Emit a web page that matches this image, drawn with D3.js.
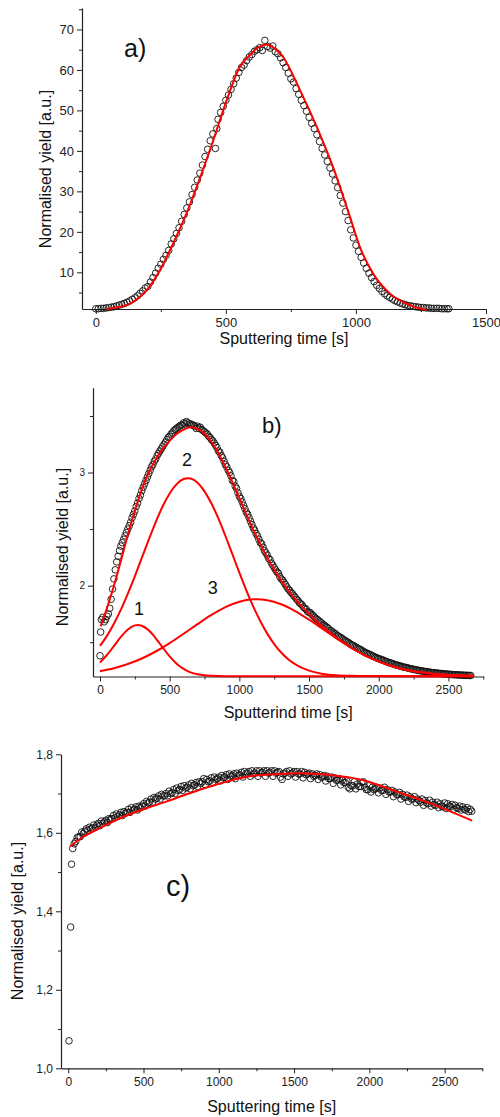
<!DOCTYPE html>
<html><head><meta charset="utf-8">
<script src="https://cdn.jsdelivr.net/npm/d3@7/dist/d3.min.js"></script>
<style>
body{margin:0;background:#fff;}
svg{display:block;font-family:"Liberation Sans",Arial,sans-serif;}
</style></head>
<body><svg id="chart" width="500" height="1117"></svg>
<script>
// ---------- Panel a ----------
const aData = [[0,1.0],[10,1.0],[20,1.1],[30,1.1],[40,1.2],[50,1.3],[60,1.4],[70,1.5],[80,1.7],[90,1.9],[100,2.1],[110,2.3],[120,2.6],[130,2.9],[140,3.3],[150,3.7],[160,4.2],[170,4.8],[180,5.4],[190,6.1],[200,6.5],[210,7.6],[220,8.7],[230,9.8],[240,11.0],[250,12.0],[260,13.2],[270,14.2],[280,15.4],[290,17.0],[300,18.3],[310,19.6],[320,21.0],[330,22.6],[340,24.3],[350,25.9],[360,27.4],[370,29.2],[380,31.0],[390,32.8],[400,34.5],[410,36.5],[420,38.6],[430,40.4],[440,42.5],[450,44.2],[460,40.6],[465,45.5],[470,47.8],[480,49.5],[490,51.0],[500,52.5],[510,53.8],[520,55.2],[530,56.6],[540,58.0],[550,59.4],[560,60.6],[570,61.2],[580,62.3],[590,63.2],[600,63.8],[610,64.6],[620,65.0],[630,65.5],[640,64.8],[650,67.3],[660,65.8],[670,65.4],[680,65.9],[690,64.5],[700,64.0],[710,63.0],[720,61.8],[730,60.6],[740,59.2],[750,57.8],[760,57.0],[770,55.4],[780,54.0],[790,52.5],[800,51.2],[810,49.8],[820,48.3],[830,46.8],[840,45.5],[850,44.0],[860,42.3],[870,40.6],[880,39.0],[890,37.4],[900,35.8],[910,34.3],[920,32.6],[930,30.9],[940,29.0],[950,27.1],[960,25.0],[970,22.8],[980,20.5],[990,18.5],[1000,16.7],[1010,15.2],[1020,13.7],[1030,12.3],[1040,11.0],[1050,9.8],[1060,8.7],[1070,7.7],[1080,6.8],[1090,6.0],[1100,5.3],[1110,4.7],[1120,4.2],[1130,3.8],[1140,3.4],[1150,3.0],[1160,2.7],[1170,2.4],[1180,2.2],[1190,2.0],[1200,1.8],[1210,1.7],[1220,1.6],[1230,1.5],[1240,1.4],[1250,1.3],[1260,1.3],[1270,1.2],[1280,1.2],[1290,1.1],[1300,1.1],[1310,1.1],[1320,1.1],[1330,1.0],[1340,1.0],[1350,1.0],[1357,1.0]];
const aFit = [[42,0.9],[80,1.3],[119,1.9],[160,3.4],[196,5.6],[247,10.6],[298,17.2],[349,24.6],[400,33.2],[452,42.7],[503,52.5],[554,60.8],[593,63.7],[625,65.6],[657,66.3],[690,65.2],[720,63.2],[785,55.0],[849,46.0],[912,36.0],[977,23.7],[1015,16.3],[1066,9.7],[1130,4.8],[1207,1.9],[1271,0.7]];
const aXTicks = [0,500,1000,1500], aXMinor = [250,750,1250];
const aYTicks = [10,20,30,40,50,60,70], aYMinor = [5,15,25,35,45,55,65,75];

// ---------- Panel b ----------
const bData = [[0,1.38],[5,1.59],[10,1.70],[20,1.72],[30,1.68],[40,1.70],[50,1.73],[60,1.75],[70,1.80],[80,1.88],[90,1.97],[100,2.06],[110,2.14],[120,2.21],[130,2.26],[140,2.31],[150,2.35],[160,2.38],[170,2.41],[180,2.44],[190,2.47],[200,2.50],[210,2.53],[220,2.56],[230,2.60],[240,2.63],[250,2.66],[260,2.70],[270,2.73],[280,2.77],[290,2.80],[300,2.84],[310,2.87],[320,2.90],[330,2.93],[340,2.96],[350,2.99],[360,3.02],[370,3.05],[380,3.07],[390,3.10],[400,3.12],[410,3.15],[420,3.17],[430,3.19],[440,3.21],[450,3.23],[460,3.25],[470,3.27],[480,3.29],[490,3.31],[500,3.32],[510,3.34],[520,3.35],[530,3.37],[540,3.38],[550,3.39],[560,3.40],[570,3.41],[580,3.42],[590,3.42],[600,3.44],[610,3.43],[620,3.45],[630,3.44],[640,3.43],[650,3.43],[660,3.42],[670,3.42],[680,3.41],[690,3.39],
[700,3.41],[710,3.39],[720,3.40],[730,3.38],[740,3.37],[750,3.36],[760,3.35],[770,3.34],[780,3.32],[790,3.31],[800,3.29],[810,3.28],[820,3.26],[830,3.24],[840,3.22],[850,3.19],[860,3.18],[870,3.15],[880,3.13],[890,3.10],[900,3.07],[910,3.05],[920,3.02],[930,3.00],[940,2.97],[950,2.93],[960,2.92],[970,2.88],[980,2.86],[990,2.82],[1000,2.79],[1010,2.77],[1020,2.74],[1030,2.71],[1040,2.68],[1050,2.65],[1060,2.63],[1070,2.60],[1080,2.57],[1090,2.54],[1100,2.51],[1110,2.49],[1120,2.46],[1130,2.44],[1140,2.41],[1150,2.38],[1160,2.37],[1170,2.34],[1180,2.31],[1190,2.29],[1200,2.27],[1210,2.24],[1220,2.23],[1230,2.20],[1240,2.18],[1250,2.16],[1260,2.14],[1270,2.12],[1280,2.11],[1290,2.08],[1300,2.06],[1310,2.05],[1320,2.03],[1330,2.01],[1340,1.99],[1350,1.97],[1360,1.96],[1370,1.94],[1380,1.93],[1390,1.91],[1400,1.90],[1410,1.88],[1420,1.87],[1430,1.85],[1440,1.84],[1450,1.83],[1460,1.81],[1470,1.80],[1480,1.79],[1490,1.77],[1500,1.765],[1510,1.76],[1520,1.745],[1530,1.735],[1540,1.72],[1550,1.71],[1560,1.70],[1570,1.69],[1580,1.68],[1590,1.67],[1600,1.655],[1610,1.65],[1620,1.64],[1630,1.63],[1640,1.62],[1650,1.605],[1660,1.60],[1670,1.59],[1680,1.58],[1690,1.575],[1700,1.56],[1710,1.555],[1720,1.545],[1730,1.54],[1740,1.53],[1750,1.52],[1760,1.515],[1770,1.505],[1780,1.50],[1790,1.49],[1800,1.48],[1810,1.475],[1820,1.47],[1830,1.46],[1840,1.455],[1850,1.445],[1860,1.44],[1870,1.435],[1880,1.425],[1890,1.42],[1900,1.41],[1910,1.405],[1920,1.40],[1930,1.395],[1940,1.39],[1950,1.38],[1960,1.378],[1970,1.37],[1980,1.365],[1990,1.36],[2000,1.355],[2010,1.35],[2020,1.347],[2030,1.34],[2040,1.338],[2050,1.33],[2060,1.328],[2070,1.32],[2080,1.318],[2090,1.315],[2100,1.31],[2110,1.306],[2120,1.30],[2130,1.298],[2140,1.295],[2150,1.29],[2160,1.288],[2170,1.283],[2180,1.28],[2190,1.278],[2200,1.275],[2210,1.272],[2220,1.268],[2230,1.266],[2240,1.263],[2250,1.26],[2260,1.258],[2270,1.255],[2280,1.253],[2290,1.25],[2300,1.248],[2310,1.246],[2320,1.244],[2330,1.242],[2340,1.24],[2350,1.238],[2360,1.236],[2370,1.234],[2380,1.232],[2390,1.231],[2400,1.23],[2410,1.228],[2420,1.227],[2430,1.225],[2440,1.224],[2450,1.223],[2460,1.222],[2470,1.22],[2480,1.219],[2490,1.218],[2500,1.217],[2510,1.216],[2520,1.215],[2530,1.214],[2540,1.213],[2550,1.212],[2560,1.212],[2570,1.211],[2580,1.21],[2590,1.21],[2600,1.209],[2610,1.208],[2620,1.208],[2630,1.207],[2640,1.207],[2650,1.206],[2660,1.206]];
const bSum = [[5,1.64],[50,1.80],[100,2.00],[150,2.22],[200,2.45],[250,2.66],[300,2.85],[350,3.00],[400,3.115],[450,3.21],[500,3.28],[550,3.34],[600,3.38],[650,3.40],[700,3.386],[750,3.343],[800,3.27],[850,3.171],[900,3.049],[950,2.915],[1000,2.773],[1050,2.631],[1100,2.494],[1150,2.367],[1200,2.248],[1250,2.141],[1300,2.045],[1350,1.959],[1400,1.882],[1450,1.813],[1500,1.749],[1550,1.69],[1600,1.636],[1650,1.586],[1700,1.539],[1750,1.496],[1800,1.455],[1850,1.418],[1900,1.384],[1950,1.355],[2000,1.329],[2050,1.306],[2100,1.286],[2150,1.269],[2200,1.255],[2250,1.243],[2300,1.234],[2400,1.22],[2500,1.211],[2600,1.206],[2680,1.203]];
const bPeak1 = [[0,1.320],[50,1.387],[100,1.466],[150,1.547],[200,1.613],[250,1.649],[271,1.653],[300,1.646],[350,1.605],[400,1.535],[450,1.453],[500,1.375],[550,1.310],[600,1.264],[650,1.233],[700,1.216],[750,1.207],[800,1.203],[900,1.200],[1500,1.200],[2000,1.200],[2680,1.200]];
const bPeak2 = [[0,1.467],[50,1.556],[100,1.663],[150,1.788],[200,1.930],[250,2.083],[300,2.245],[350,2.407],[400,2.562],[450,2.702],[500,2.815],[550,2.898],[600,2.943],[630,2.950],[650,2.947],[700,2.910],[750,2.834],[800,2.726],[850,2.592],[900,2.439],[950,2.278],[1000,2.115],[1050,1.959],[1100,1.815],[1150,1.687],[1200,1.576],[1250,1.484],[1300,1.409],[1350,1.350],[1400,1.306],[1450,1.273],[1500,1.249],[1600,1.220],[1700,1.208],[1800,1.203],[1900,1.201],[2300,1.200],[2680,1.200]];
const bPeak3 = [[0,1.244],[100,1.270],[200,1.307],[300,1.356],[400,1.418],[500,1.492],[600,1.575],[700,1.660],[800,1.741],[900,1.810],[1000,1.858],[1100,1.879],[1124,1.880],[1200,1.872],[1300,1.836],[1400,1.776],[1500,1.700],[1600,1.616],[1700,1.531],[1800,1.452],[1900,1.384],[2000,1.329],[2100,1.286],[2200,1.255],[2300,1.234],[2400,1.220],[2500,1.211],[2600,1.206],[2680,1.203]];
const bXTicks = [0,500,1000,1500,2000,2500], bXMinor = [250,750,1250,1750,2250,2750];
const bYTicks = [2,3], bYMinor = [1.5,2.5,3.5];
const bPeakLabels = [["1",280,1.74],["2",625,3.06],["3",810,1.93]];

// ---------- Panel c ----------
const cData = [[5,1.07],[16,1.36],[22,1.52],[30,1.56],[40,1.572],[50,1.578],[60,1.588],[70,1.59],[80,1.59],[90,1.602],[100,1.598],[110,1.604],[120,1.61],[130,1.606],[140,1.614],[150,1.61],[160,1.612],[170,1.62],[180,1.614],[190,1.62],[200,1.624],[210,1.618],[220,1.63],[230,1.624],[240,1.628],[250,1.632],[260,1.626],[270,1.636],[280,1.634],[290,1.636],[300,1.644],[310,1.638],[320,1.648],[330,1.642],[340,1.646],[350,1.652],[360,1.644],[370,1.654],[380,1.65],[390,1.652],[400,1.66],[410,1.652],[420,1.664],[430,1.658],[440,1.66],[450,1.666],[460,1.658],[470,1.668],[480,1.664],[490,1.668],[500,1.674],[510,1.668],[520,1.68],[530,1.676],[540,1.678],[550,1.686],[560,1.678],[570,1.69],[580,1.686],[590,1.688],[600,1.694],[610,1.686],[620,1.698],[630,1.694],[640,1.694],[650,1.70],[660,1.694],[670,1.706],[680,1.70],[690,1.702],[700,1.71],[710,1.70],[720,1.714],[730,1.708],[740,1.71],[750,1.718],[760,1.708],[770,1.72],[780,1.714],[790,1.716],[800,1.722],[810,1.712],[820,1.726],[830,1.72],[840,1.722],[850,1.728],[860,1.718],[870,1.73],[880,1.726],[890,1.73],[900,1.738],[910,1.722],[920,1.736],[930,1.73],[940,1.732],[950,1.74],[960,1.728],[970,1.742],[980,1.736],[990,1.738],[1000,1.742],[1010,1.732],[1020,1.746],[1030,1.74],[1040,1.742],[1050,1.748],[1060,1.736],[1070,1.75],[1080,1.744],[1090,1.746],[1100,1.75],[1110,1.738],[1120,1.752],[1130,1.746],[1140,1.748],[1150,1.754],[1160,1.742],[1170,1.756],[1180,1.75],[1190,1.752],[1200,1.756],[1210,1.744],[1220,1.758],[1230,1.75],[1240,1.752],[1250,1.758],[1260,1.744],[1270,1.758],[1280,1.752],[1290,1.754],[1300,1.758],[1310,1.744],[1320,1.758],[1330,1.752],[1340,1.754],[1350,1.758],[1360,1.744],[1370,1.758],[1380,1.752],[1390,1.754],[1400,1.756],[1410,1.742],[1420,1.736],[1430,1.75],[1440,1.752],[1450,1.756],[1460,1.744],[1470,1.758],[1480,1.75],[1490,1.752],[1500,1.756],[1510,1.742],[1520,1.756],[1530,1.75],[1540,1.75],[1550,1.756],[1560,1.74],[1570,1.754],[1580,1.748],[1590,1.75],[1600,1.752],[1610,1.738],[1620,1.75],[1630,1.744],[1640,1.746],[1650,1.75],[1660,1.736],[1670,1.748],[1680,1.742],[1690,1.742],[1700,1.746],[1710,1.732],[1720,1.744],[1730,1.738],[1740,1.738],[1750,1.742],[1760,1.726],[1770,1.74],[1780,1.734],[1790,1.734],[1800,1.738],[1810,1.722],[1820,1.734],[1830,1.728],[1840,1.728],[1850,1.732],[1860,1.716],[1870,1.712],[1880,1.72],[1890,1.72],[1900,1.73],[1910,1.712],[1920,1.724],[1930,1.718],[1940,1.718],[1950,1.728],[1960,1.73],[1970,1.716],[1980,1.71],[1990,1.71],[2000,1.72],[2010,1.704],[2020,1.716],[2030,1.71],[2040,1.712],[2050,1.716],[2060,1.702],[2070,1.714],[2080,1.708],[2090,1.708],[2100,1.716],[2110,1.698],[2120,1.71],[2130,1.704],[2140,1.704],[2150,1.708],[2160,1.692],[2170,1.704],[2180,1.698],[2190,1.697],[2200,1.703],[2210,1.686],[2220,1.698],[2230,1.692],[2240,1.69],[2250,1.696],[2260,1.68],[2270,1.692],[2280,1.686],[2290,1.686],[2300,1.692],[2310,1.677],[2320,1.686],[2330,1.682],[2340,1.678],[2350,1.686],[2360,1.67],[2370,1.682],[2380,1.676],[2390,1.674],[2400,1.683],[2410,1.668],[2420,1.678],[2430,1.672],[2440,1.67],[2450,1.678],[2460,1.664],[2470,1.674],[2480,1.668],[2490,1.666],[2500,1.676],[2510,1.662],[2520,1.674],[2530,1.668],[2540,1.666],[2550,1.672],[2560,1.66],[2570,1.67],[2580,1.664],[2590,1.662],[2600,1.668],[2610,1.658],[2620,1.666],[2630,1.66],[2640,1.658],[2650,1.664],[2660,1.654],[2670,1.66],[2680,1.655]];
const cFit = [[11,1.565],[100,1.59],[200,1.61],[344,1.637],[500,1.66],[654,1.68],[800,1.70],[1000,1.725],[1186,1.743],[1400,1.750],[1541,1.752],[1741,1.747],[1939,1.736],[2183,1.705],[2405,1.675],[2682,1.631]];
const cXTicks = [0,500,1000,1500,2000,2500], cXMinor = [250,750,1250,1750,2250,2750];
const cYTicks = [1.0,1.2,1.4,1.6,1.8], cYMinor = [1.1,1.3,1.5,1.7];

const svg = d3.select("#chart");
const FONT = "Liberation Sans, Arial, sans-serif";
const AX = "#222";

function panel(cfg){
  const x = d3.scaleLinear().domain(cfg.xd).range(cfg.xr);
  const y = d3.scaleLinear().domain(cfg.yd).range(cfg.yr);
  const g = svg.append("g");
  g.append("g").attr("transform",`translate(0,${cfg.yr[0]})`)
    .call(d3.axisBottom(x).tickValues(cfg.xMinor).tickSize(3).tickFormat(""))
    .call(s=>s.select(".domain").remove());
  g.append("g").attr("transform",`translate(${cfg.xr[0]},0)`)
    .call(d3.axisLeft(y).tickValues(cfg.yMinor).tickSize(3).tickFormat(""))
    .call(s=>s.select(".domain").remove());
  const xa = g.append("g").attr("transform",`translate(0,${cfg.yr[0]})`)
    .call(d3.axisBottom(x).tickValues(cfg.xTicks).tickSize(5).tickSizeOuter(0).tickPadding(4).tickFormat(d3.format("d")));
  xa.selectAll("text").attr("font-size",cfg.xTickFs).attr("font-family",FONT).attr("fill",AX);
  const ya = g.append("g").attr("transform",`translate(${cfg.xr[0]},0)`)
    .call(d3.axisLeft(y).tickValues(cfg.yTicks).tickSize(5).tickSizeOuter(0).tickPadding(3).tickFormat(cfg.yFmt));
  ya.selectAll("text").attr("font-size",cfg.yTickFs).attr("font-family",FONT).attr("fill",AX);
  g.selectAll(".tick line").attr("stroke",AX);
  g.selectAll(".domain").attr("stroke",AX).attr("stroke-width",1.2);

  g.append("g").selectAll("circle").data(cfg.data).join("circle")
    .attr("cx",d=>x(d[0])).attr("cy",d=>y(d[1])).attr("r",3.3)
    .attr("fill","none").attr("stroke","#111").attr("stroke-width",0.9);
  const line = d3.line().x(d=>x(d[0])).y(d=>y(d[1])).curve(d3.curveMonotoneX);
  cfg.fits.forEach(f=>{
    g.append("path").datum(f).attr("d",line).attr("fill","none")
      .attr("stroke","#ff0000").attr("stroke-width",2);
  });
  g.append("text").attr("x",(cfg.xr[0]+cfg.xr[1])/2).attr("y",cfg.xTitleY)
    .attr("text-anchor","middle").attr("font-size",cfg.titleFs).attr("font-family",FONT)
    .attr("fill","#111").text(cfg.xTitle);
  g.append("text").attr("transform",`translate(${cfg.yTitleX},${cfg.yTitleY}) rotate(-90)`)
    .attr("text-anchor","middle").attr("font-size",cfg.titleFs).attr("font-family",FONT)
    .attr("fill","#111").text("Normalised yield [a.u.]");
  g.append("text").attr("x",cfg.label[1]).attr("y",cfg.label[2])
    .attr("font-size",cfg.label[3]).attr("font-family",FONT).attr("fill","#111").text(cfg.label[0]);
  (cfg.peakLabels||[]).forEach(p=>{
    g.append("text").attr("x",x(p[1])).attr("y",y(p[2])).attr("text-anchor","middle")
      .attr("font-size",18).attr("font-family",FONT).attr("fill","#111").text(p[0]);
  });
}

panel({xd:[-53,1500], xr:[82,486], yd:[0.94,75.3], yr:[309,8],
  xTicks:aXTicks, xMinor:aXMinor, yTicks:aYTicks, yMinor:aYMinor, yFmt:d3.format("d"),
  data:aData, fits:[aFit], xTickFs:13, yTickFs:13, titleFs:16,
  xTitle:"Sputtering time [s]", xTitleY:344, yTitleX:51, yTitleY:169,
  label:["a)",124,57,25]});

panel({xd:[-50,2750], xr:[93,483.3], yd:[1.197,3.75], yr:[676.5,387.7],
  xTicks:bXTicks, xMinor:bXMinor, yTicks:bYTicks, yMinor:bYMinor, yFmt:d3.format("d"),
  data:bData, fits:[bSum,bPeak1,bPeak2,bPeak3], xTickFs:12, yTickFs:10, titleFs:16,
  xTitle:"Sputterind time [s]", xTitleY:718, yTitleX:68, yTitleY:547,
  label:["b)",262,433,22], peakLabels:bPeakLabels});

panel({xd:[-48,2750], xr:[61,482.3], yd:[1.0,1.8], yr:[1068.3,754.3],
  xTicks:cXTicks, xMinor:cXMinor, yTicks:cYTicks, yMinor:cYMinor, yFmt:d=>d3.format(".1f")(d).replace(".",","),
  data:cData, fits:[cFit], xTickFs:12, yTickFs:12, titleFs:16,
  xTitle:"Sputtering time [s]", xTitleY:1112, yTitleX:23, yTitleY:921,
  label:["c)",166,896,29]});
</script>
</body></html>
